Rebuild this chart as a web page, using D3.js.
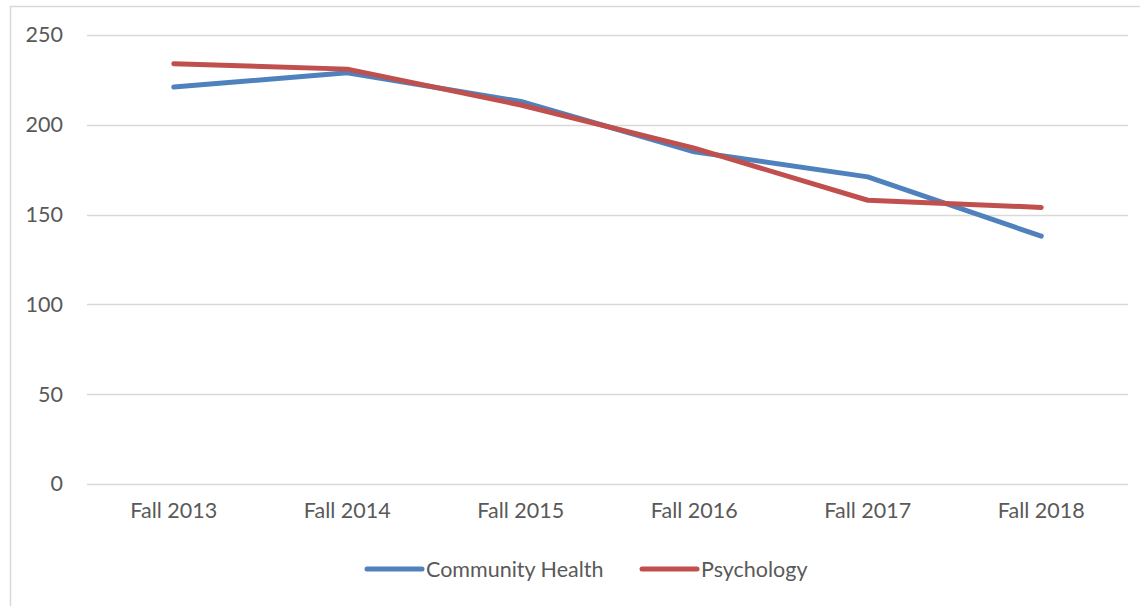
<!DOCTYPE html>
<html><head><meta charset="utf-8">
<script src="https://cdn.jsdelivr.net/npm/d3@7"></script>
<style>
html,body{margin:0;padding:0;background:#fff;}
svg text{font-family:Lato,"Open Sans",sans-serif;fill:#595959;}
</style></head>
<body><svg id="c" width="1140" height="606"></svg>
<script>
const categories = ["Fall 2013","Fall 2014","Fall 2015","Fall 2016","Fall 2017","Fall 2018"];
const communityHealth = [221, 229, 213, 185, 171, 138];
const psychology = [234, 231, 211, 187, 158, 154];
const yTicks = [0, 50, 100, 150, 200, 250];
const seriesNames = ["Community Health", "Psychology"];
const seriesColors = ["#4f81bd", "#c0504d"];

(function(){
const FS = "21.5px";
const svg = d3.select("#c");
svg.append("rect").attr("x",10.5).attr("y",6.5).attr("width",1140).attr("height",610)
  .attr("fill","#fff").attr("stroke","#d9d9d9").attr("stroke-width",1.5);

const pL = 87, pR = 1128, pT = 35, pB = 484;
const x = d3.scaleBand().domain(categories).range([pL, pR]);
const y = d3.scaleLinear().domain([0, 250]).range([pB, pT]);

const grid = svg.append("g");
grid.selectAll("line").data(yTicks).join("line")
  .attr("x1", pL).attr("x2", pR)
  .attr("y1", d => Math.round(y(d))+0.5).attr("y2", d => Math.round(y(d))+0.5)
  .attr("stroke","#d9d9d9").attr("stroke-width",1.5);

const yAxis = svg.append("g").attr("transform",`translate(${pL},0)`)
  .call(d3.axisLeft(y).tickValues(yTicks).tickSize(0).tickPadding(24));
yAxis.select(".domain").remove();
yAxis.selectAll("text").attr("font-size",FS).style("font-family","Lato, 'Open Sans', sans-serif").attr("fill","#595959");

const xAxis = svg.append("g").attr("transform",`translate(0,${pB})`)
  .call(d3.axisBottom(x).tickSize(0).tickPadding(19));
xAxis.select(".domain").remove();
xAxis.selectAll("text").attr("font-size",FS).style("font-family","Lato, 'Open Sans', sans-serif").attr("fill","#595959");

const line = d3.line().x((d,i) => x(categories[i]) + x.bandwidth()/2).y(d => y(d));
[communityHealth, psychology].forEach((s, k) => {
  svg.append("path").datum(s).attr("d", line).attr("fill","none")
    .attr("stroke", seriesColors[k]).attr("stroke-width",5)
    .attr("stroke-linecap","round").attr("stroke-linejoin","round");
});

const legendX = [367, 642];
const lg = svg.append("g");
seriesNames.forEach((n, k) => {
  lg.append("line").attr("x1", legendX[k]).attr("x2", legendX[k]+55)
    .attr("y1", 569).attr("y2", 569).attr("stroke", seriesColors[k])
    .attr("stroke-width",5).attr("stroke-linecap","round");
  lg.append("text").attr("x", legendX[k]+59).attr("y", 569).attr("dy","0.35em")
    .attr("font-size",FS).text(n);
});
})();
</script></body></html>
